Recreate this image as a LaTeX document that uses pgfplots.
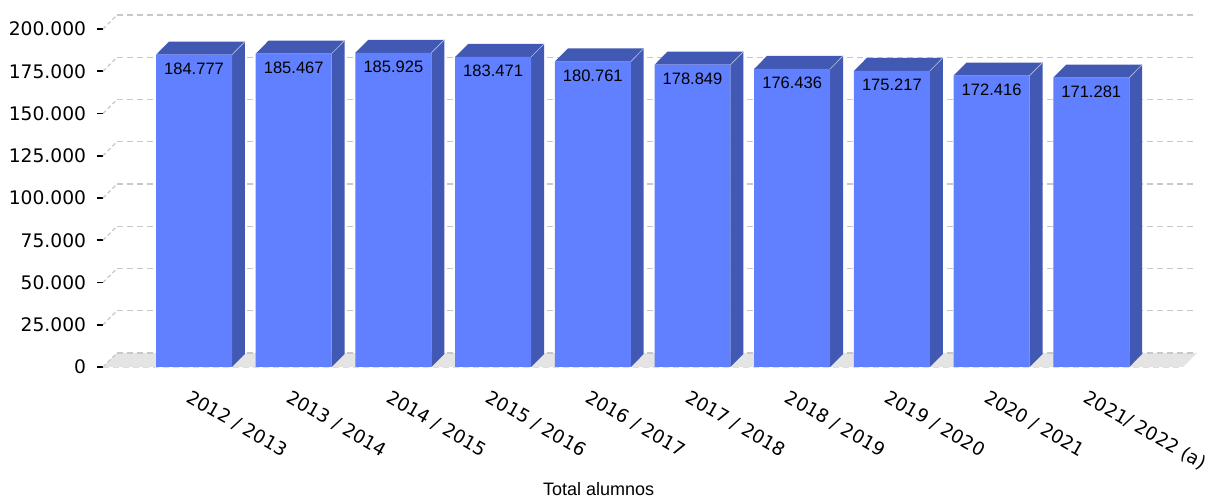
\documentclass[border=0pt]{standalone}
\usepackage{pgfplots}
\pgfplotsset{compat=1.18}
\usepackage{pgfplotstable}
\usepackage{fontspec}
\setmainfont{Liberation Sans}
\newfontfamily\dv{DejaVu Sans}
\definecolor{frontcol}{RGB}{96,128,255}
\definecolor{sidecol}{RGB}{66,89,180}
\definecolor{gridcol}{RGB}{200,200,200}
\definecolor{floorcol}{RGB}{228,228,228}

\pgfplotstableread{
x y lab
0 184.777 184.777
1 185.467 185.467
2 185.925 185.925
3 183.471 183.471
4 180.761 180.761
5 178.849 178.849
6 176.436 176.436
7 175.217 175.217
8 172.416 172.416
9 171.281 171.281
}\data

\begin{document}
\begin{tikzpicture}
\path[use as bounding box] (-77.25pt,-99pt) rectangle (833.25pt,275.25pt);
\begin{axis}[
  at={(0,0)}, anchor=south west,
  scale only axis, width=810pt, height=253.5pt,
  xmin=-0.913, xmax=9.92, ymin=0, ymax=200,
  clip=false,
  axis x line*=bottom, axis y line*=left,
  axis line style={draw=none},
  ytick={0,25,...,200},
  yticklabels={0,25.000,50.000,75.000,100.000,125.000,150.000,175.000,200.000},
  xtick={0,...,9},
  xticklabels={2012 / 2013,2013 / 2014,2014 / 2015,2015 / 2016,2016 / 2017,2017 / 2018,2018 / 2019,2019 / 2020,2020 / 2021,2021/ 2022 (a)},
  tick align=outside,
  major tick length=4.5pt,
  ytick style={draw=black, line width=1.3pt},
  xtick style={draw=none},
  yticklabel style={font=\dv\fontsize{14}{16}\selectfont, anchor=east, inner sep=0pt, xshift=-8pt},
  xticklabel style={font=\dv\fontsize{13.8}{16}\selectfont, rotate=-30, anchor=north west, inner sep=0pt, xshift=5pt, yshift=-11pt},
  ymajorgrids,
  major grid style={gridcol, dash pattern=on 4.5pt off 3pt, line width=0.8pt, xshift=10.5pt, yshift=10.5pt},
  xlabel={Total alumnos},
  xlabel style={at={(axis description cs:0.459,-0.362)}, anchor=center, font=\fontsize{13.5}{16}\selectfont},
]
% floor
\fill[floorcol] (axis cs:-0.913,0) -- (axis cs:9.92,0) -- ([shift={(10.5pt,10.5pt)}]axis cs:9.92,0) -- ([shift={(10.5pt,10.5pt)}]axis cs:-0.913,0) -- cycle;
\draw[gridcol, dash pattern=on 4.5pt off 3pt, line width=0.8pt] ([shift={(10.5pt,10.5pt)}]axis cs:-0.913,0) -- ([shift={(10.5pt,10.5pt)}]axis cs:9.92,0);
\draw[gridcol!60, dash pattern=on 4.5pt off 3pt, line width=0.6pt] (axis cs:-0.913,0) -- (axis cs:9.92,0);
\pgfplotsinvokeforeach{0,25,...,200}{
  \draw[gridcol, line width=0.8pt, dash pattern=on 3pt off 2pt] (axis cs:-0.913,#1) -- ++(10.5pt,10.5pt);
}
% 3D faces
\pgfplotsinvokeforeach{0,...,9}{
  \pgfplotstablegetelem{#1}{y}\of\data
  \let\v\pgfplotsretval
  \pgfmathsetmacro\xa{#1+0.381}
  \pgfmathsetmacro\xb{#1+0.381+0.13}
  \pgfmathsetmacro\xc{#1-0.381}
  \pgfmathsetmacro\xd{#1-0.381+0.13}
  \pgfmathsetmacro\yt{\v+7.7}
  \edef\tmp{\noexpand\addplot[fill=sidecol, draw=none, forget plot] coordinates {(\xa,0) (\xb,7.7) (\xb,\yt) (\xa,\v)};
    \noexpand\addplot[fill=sidecol, draw=none, forget plot] coordinates {(\xc,\v) (\xa,\v) (\xb,\yt) (\xd,\yt)};
    \noexpand\addplot[draw=white!60!sidecol, line width=0.5pt, forget plot] coordinates {(\xa,\v) (\xb,\yt)};}
  \tmp
}
% front faces
\addplot[ybar, bar width=0.762, fill=frontcol, draw=none,
  point meta=explicit symbolic,
  nodes near coords,
  every node near coord/.append style={anchor=center, yshift=-10.5pt, font=\fontsize{12.4}{14}\selectfont, text=black}]
  table[x=x, y=y, meta=lab]{\data};
\end{axis}
\end{tikzpicture}
\end{document}
